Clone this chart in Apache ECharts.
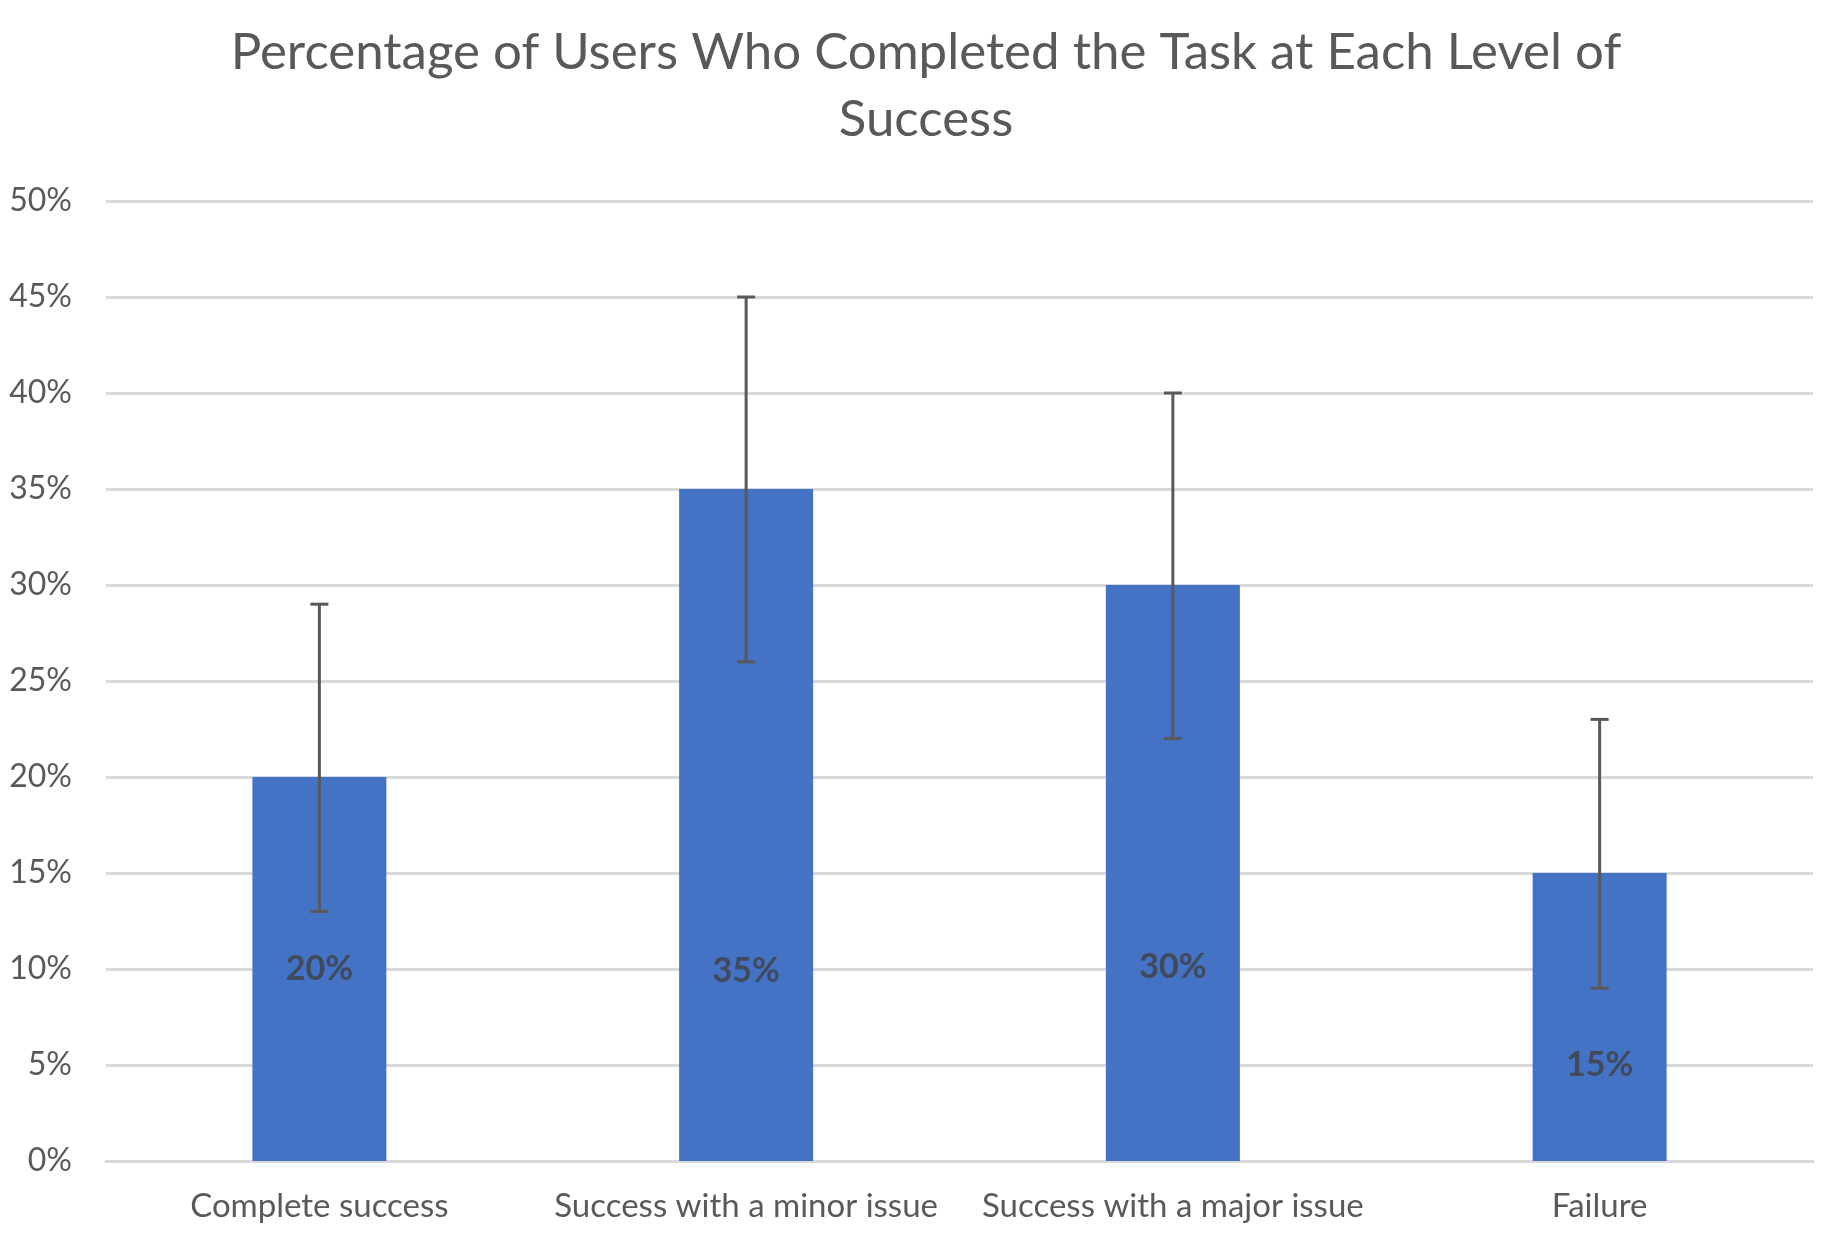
<!DOCTYPE html>
<html>
<head>
<meta charset="utf-8">
<script src="https://cdn.jsdelivr.net/npm/echarts@6/dist/echarts.min.js"></script>
<style>
html,body{margin:0;padding:0;background:#fff;}
#chart{width:1826px;height:1239px;}
</style>
</head>
<body>
<div id="chart"></div>
<script>
const titleText = 'Percentage of Users Who Completed the Task at Each Level of\nSuccess';
const categories = ['Complete success', 'Success with a minor issue', 'Success with a major issue', 'Failure'];
const values = [20, 35, 30, 15];
const errorLow = [13, 26, 22, 9];
const errorHigh = [29, 45, 40, 23];
const labelAnchor = [10, 9.9, 10.1, 5];
const yTicks = { min: 0, max: 50, interval: 5 };

const FONT = 'Lato';
const chart = echarts.init(document.getElementById('chart'));
chart.setOption({
  backgroundColor: '#ffffff',
  animation: false,
  title: {
    text: titleText,
    left: 921,
    textAlign: 'center',
    top: 14,
    textStyle: { fontFamily: FONT, fontSize: 51, fontWeight: 'normal', color: '#595959', lineHeight: 67 }
  },
  grid: { left: 106, right: 13, top: 201, bottom: 78, containLabel: false },
  xAxis: {
    type: 'category',
    data: categories,
    axisLine: { show: true, lineStyle: { color: '#d9d9d9', width: 3 } },
    axisTick: { show: false },
    axisLabel: { fontFamily: FONT, fontSize: 33, color: '#595959', margin: 29, interval: 0 }
  },
  yAxis: {
    type: 'value',
    min: yTicks.min, max: yTicks.max, interval: yTicks.interval,
    axisLine: { show: false },
    axisTick: { show: false },
    splitLine: { lineStyle: { color: '#d9d9d9', width: 3 } },
    axisLabel: { fontFamily: FONT, fontSize: 32, color: '#595959', margin: 34, formatter: v => v + '%' }
  },
  series: [
    {
      type: 'bar',
      data: values,
      barWidth: '31.4%',
      itemStyle: { color: '#4472C4' }
    },
    {
      type: 'custom',
      data: categories.map((c, i) => [i, errorLow[i], errorHigh[i]]),
      encode: { x: 0, y: [1, 2] },
      z: 5,
      renderItem: function (params, api) {
        const lo = api.coord([api.value(0), api.value(1)]);
        const hi = api.coord([api.value(0), api.value(2)]);
        const cap = 9;
        const style = { stroke: '#595959', lineWidth: 3, fill: null };
        return {
          type: 'group',
          children: [
            { type: 'line', shape: { x1: hi[0], y1: hi[1], x2: lo[0], y2: lo[1] }, style: style },
            { type: 'line', shape: { x1: hi[0] - cap, y1: hi[1], x2: hi[0] + cap, y2: hi[1] }, style: style },
            { type: 'line', shape: { x1: lo[0] - cap, y1: lo[1], x2: lo[0] + cap, y2: lo[1] }, style: style }
          ]
        };
      }
    },
    {
      type: 'scatter',
      data: labelAnchor,
      symbolSize: 0,
      z: 6,
      silent: true,
      label: {
        show: true,
        position: 'inside',
        fontFamily: FONT,
        fontSize: 34,
        fontWeight: 'bold',
        color: '#404040',
        formatter: p => values[p.dataIndex] + '%'
      }
    }
  ]
});
</script>
</body>
</html>
